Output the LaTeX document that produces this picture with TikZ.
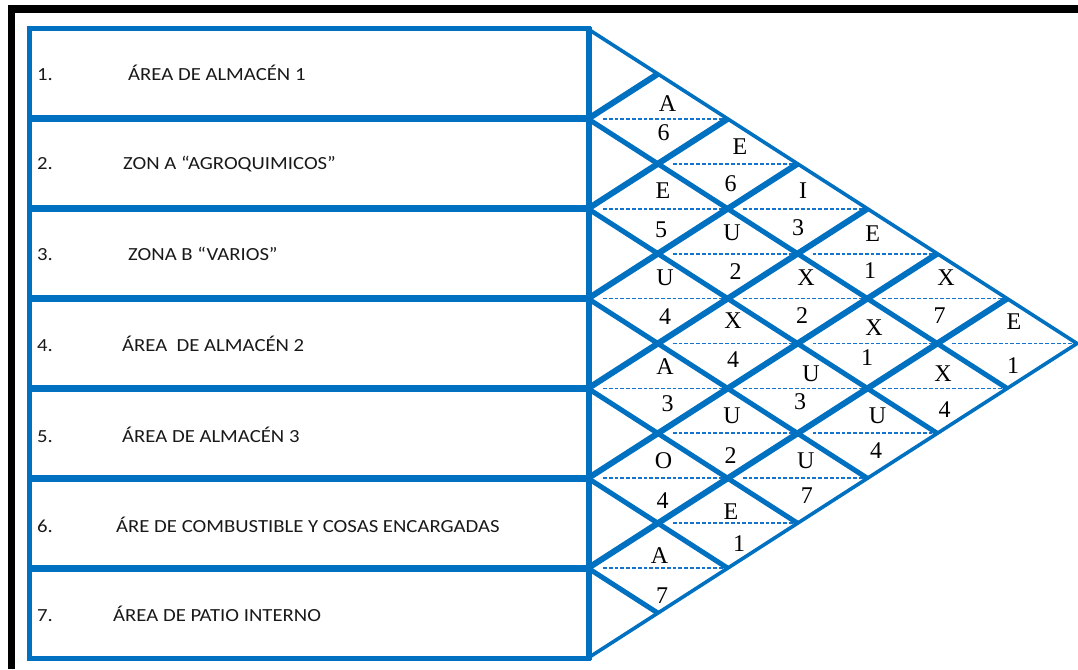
\documentclass[tikz,border=0pt]{standalone}
\usepackage{fontspec}
\setmainfont{Liberation Serif}
\newfontfamily\labfont[FakeStretch=1.12]{Carlito}
\definecolor{wblue}{RGB}{0,112,192}
\definecolor{dblue}{RGB}{20,115,205}
\definecolor{txt}{RGB}{25,25,25}
\begin{document}
\begin{tikzpicture}[x=1pt,y=-1pt,
  boxline/.style={draw=wblue,line width=5pt},
  rowline/.style={draw=wblue,line width=7pt},
  outerline/.style={draw=wblue,line width=3.6pt,line join=miter},
  downline/.style={draw=wblue,line width=5pt},
  upline/.style={draw=wblue,line width=6pt},
  dashline/.style={draw=dblue,line width=1.8pt,dash pattern=on 3.8pt off 2pt},
  rowlab/.style={anchor=base west,inner sep=0pt,text=txt,font=\labfont\fontsize{18.5}{22}\selectfont},
  rel/.style={inner sep=0pt,anchor=center,font=\fontsize{24}{28}\selectfont},
]
\useasboundingbox (0,0) rectangle (1078,669);
\def\X{588}
\def\T{29}
\def\H{89.857}
\def\W{69.857}
% black frame
\fill[black] (8,5) rectangle (1078,13);
\fill[black] (8,5) rectangle (15,669);
% dashed middle lines of the diamonds
\foreach \i/\j in {1/2,1/3,1/4,1/5,1/6,1/7,2/3,2/4,2/5,2/6,2/7,3/4,3/5,3/6,3/7,4/5,4/6,4/7,5/6,5/7,6/7}{
  \pgfmathsetmacro\cx{\X+(\j-\i)*\W}
  \pgfmathsetmacro\cy{\T+(\i+\j-1)*\H/2}
  \draw[dashline] ({\cx-\W+15},\cy) -- ({\cx+\W-3},\cy);
}
% left boxes
\draw[boxline] (29,29) rectangle (588,658);
\foreach \k in {1,...,6}{
  \draw[rowline] (29,{\T+\k*\H}) -- (588,{\T+\k*\H});
}
% grid lines
\foreach \k in {1,...,6}{
  \draw[downline] (\X,{\T+\k*\H}) -- ({\X+(7-\k)*\W},{\T+(\k+7)*\H/2});
  \draw[upline] (\X,{\T+\k*\H}) -- ({\X+\k*\W},{\T+\k*\H/2});
}
\draw[outerline] (\X,\T) -- ({\X+7*\W},{\T+3.5*\H}) -- (\X,{\T+7*\H});
\draw[draw=wblue,line width=6pt] (589,27) -- (589,660);
% row labels
\node[rowlab] (n1) at (37,81) {1.};
\node[rowlab] (t1) at (128,81) {ÁREA DE ALMACÉN 1};
\node[rowlab] (n2) at (37,169.5) {2.};
\node[rowlab] (t2) at (123,169.5) {ZON A “AGROQUIMICOS”};
\node[rowlab] (n3) at (37,260.5) {3.};
\node[rowlab] (t3) at (128,260.5) {ZONA B “VARIOS”};
\node[rowlab] (n4) at (37,351.5) {4.};
\node[rowlab] (t4) at (122,351.5) {ÁREA\ \ DE ALMACÉN 2};
\node[rowlab] (n5) at (37,442.5) {5.};
\node[rowlab] (t5) at (122,442.5) {ÁREA DE ALMACÉN 3};
\node[rowlab] (n6) at (37,532) {6.};
\node[rowlab] (t6) at (116,532) {ÁRE DE COMBUSTIBLE Y COSAS ENCARGADAS};
\node[rowlab] (n7) at (37,621) {7.};
\node[rowlab] (t7) at (113,621) {ÁREA DE PATIO INTERNO};
% relationship codes and reasons
\node[rel] (a12) at (667.6,103.5) {A};  \node[rel] (b12) at (663.6,133) {6};
\node[rel] (a13) at (740,147) {E};      \node[rel] (b13) at (730.5,184) {6};
\node[rel] (a23) at (663,191) {E};      \node[rel] (b23) at (661,230) {5};
\node[rel] (a14) at (803,191) {I};      \node[rel] (b14) at (798,228) {3};
\node[rel] (a24) at (732,233) {U};      \node[rel] (b24) at (735.5,272) {2};
\node[rel] (a15) at (872.6,234) {E};    \node[rel] (b15) at (870,271) {1};
\node[rel] (a34) at (665,278) {U};      \node[rel] (b34) at (665,317) {4};
\node[rel] (a25) at (806,278) {X};      \node[rel] (b25) at (802,316) {2};
\node[rel] (a16) at (946,278) {X};      \node[rel] (b16) at (939.5,316) {7};
\node[rel] (a35) at (733,321) {X};      \node[rel] (b35) at (733,360) {4};
\node[rel] (a26) at (874,328) {X};      \node[rel] (b26) at (867,358) {1};
\node[rel] (a17) at (1014,322) {E};     \node[rel] (b17) at (1013,366) {1};
\node[rel] (a45) at (665,367) {A};      \node[rel] (b45) at (667.6,404) {3};
\node[rel] (a36) at (811,373.5) {U};    \node[rel] (b36) at (800,402) {3};
\node[rel] (a27) at (943,373.5) {X};    \node[rel] (b27) at (944.5,410) {4};
\node[rel] (a46) at (732,416) {U};      \node[rel] (b46) at (730.5,456) {2};
\node[rel] (a37) at (877.6,416) {U};    \node[rel] (b37) at (876,451) {4};
\node[rel] (a56) at (663.6,461) {O};    \node[rel] (b56) at (662.6,500.6) {4};
\node[rel] (a47) at (805.8,461) {U};    \node[rel] (b47) at (806.8,496) {7};
\node[rel] (a57) at (731,512) {E};      \node[rel] (b57) at (739,544) {1};
\node[rel] (a67) at (659.6,555.7) {A};  \node[rel] (b67) at (662,596) {7};
\end{tikzpicture}
\end{document}
